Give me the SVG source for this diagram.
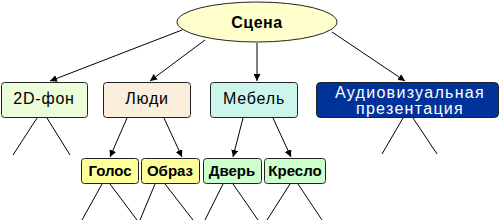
<svg xmlns="http://www.w3.org/2000/svg" width="500" height="220" viewBox="0 0 500 220">
<style>
.box{stroke:#222;stroke-width:1}
.t1{font-family:"Liberation Sans",Arial,sans-serif;font-size:16px;letter-spacing:0.8px;text-anchor:middle;fill:#000}
.t2{font-family:"Liberation Sans",Arial,sans-serif;font-size:15px;font-weight:bold;text-anchor:middle;fill:#000}
.ln{stroke:#000;stroke-width:1;fill:none}
</style>
<defs>
<marker id="ah" viewBox="0 0 10 10" refX="10" refY="5" markerWidth="7" markerHeight="7" orient="auto" markerUnits="userSpaceOnUse">
<path d="M0,0 L10,5 L0,10 z" fill="#000"/>
</marker>
</defs>
<rect width="500" height="220" fill="#fff"/>
<g id="connectors">
<line class="ln" x1="182" y1="30" x2="50" y2="81" marker-end="url(#ah)"/>
<line class="ln" x1="205" y1="40" x2="150" y2="81" marker-end="url(#ah)"/>
<line class="ln" x1="257" y1="43" x2="257" y2="81" marker-end="url(#ah)"/>
<line class="ln" x1="332" y1="32" x2="405" y2="81" marker-end="url(#ah)"/>
<line class="ln" x1="127" y1="118" x2="110" y2="157" marker-end="url(#ah)"/>
<line class="ln" x1="164" y1="118" x2="182" y2="157" marker-end="url(#ah)"/>
<line class="ln" x1="243" y1="118" x2="233" y2="157" marker-end="url(#ah)"/>
<line class="ln" x1="273" y1="118" x2="291" y2="157" marker-end="url(#ah)"/>
<line class="ln" x1="37" y1="118" x2="13" y2="155"/>
<line class="ln" x1="47" y1="118" x2="70" y2="155"/>
<line class="ln" x1="403" y1="118" x2="382" y2="154"/>
<line class="ln" x1="413" y1="118" x2="437" y2="154"/>
<line class="ln" x1="102" y1="184" x2="82" y2="220"/>
<line class="ln" x1="110" y1="184" x2="137" y2="220"/>
<line class="ln" x1="155" y1="184" x2="140" y2="220"/>
<line class="ln" x1="165" y1="184" x2="193" y2="220"/>
<line class="ln" x1="223" y1="184" x2="205" y2="220"/>
<line class="ln" x1="233" y1="184" x2="258" y2="220"/>
<line class="ln" x1="290" y1="184" x2="267" y2="220"/>
<line class="ln" x1="298" y1="184" x2="322" y2="220"/>
</g>
<g id="scene">
<ellipse cx="257" cy="22" rx="80" ry="20" fill="#FFFFCC" class="box"/>
<text x="257" y="28" class="t1" style="font-weight:bold;letter-spacing:0.5px">Сцена</text>
</g>
<g id="bg2d">
<rect x="1.5" y="82.5" width="86" height="35" rx="3" fill="#EBFDD9" class="box"/>
<text x="44" y="104" class="t1">2D-фон</text>
</g>
<g id="people">
<rect x="103.5" y="82.5" width="87" height="35" rx="3" fill="#FBEEDC" class="box"/>
<text x="147" y="104" class="t1">Люди</text>
</g>
<g id="furniture">
<rect x="210.5" y="82.5" width="87" height="35" rx="3" fill="#CCF5EC" class="box"/>
<text x="254" y="104" class="t1">Мебель</text>
</g>
<g id="av">
<rect x="316.5" y="82.5" width="182" height="35" rx="4" fill="#003399" class="box"/>
<text x="410" y="98" class="t1" style="fill:#fff;letter-spacing:1.3px">Аудиовизуальная</text>
<text x="410" y="114" class="t1" style="fill:#fff;letter-spacing:1.3px">презентация</text>
</g>
<g id="voice">
<rect x="81.5" y="158.5" width="57" height="25" rx="3" fill="#FFFF99" class="box"/>
<text x="110" y="176" class="t2">Голос</text>
</g>
<g id="image">
<rect x="141.5" y="158.5" width="58" height="25" rx="3" fill="#FFFF99" class="box"/>
<text x="170" y="176" class="t2">Образ</text>
</g>
<g id="door">
<rect x="203.5" y="158.5" width="58" height="25" rx="3" fill="#CCFFCC" class="box"/>
<text x="232" y="176" class="t2">Дверь</text>
</g>
<g id="chair">
<rect x="264.5" y="158.5" width="61" height="25" rx="3" fill="#CCFFCC" class="box"/>
<text x="295" y="176" class="t2">Кресло</text>
</g>
</svg>
